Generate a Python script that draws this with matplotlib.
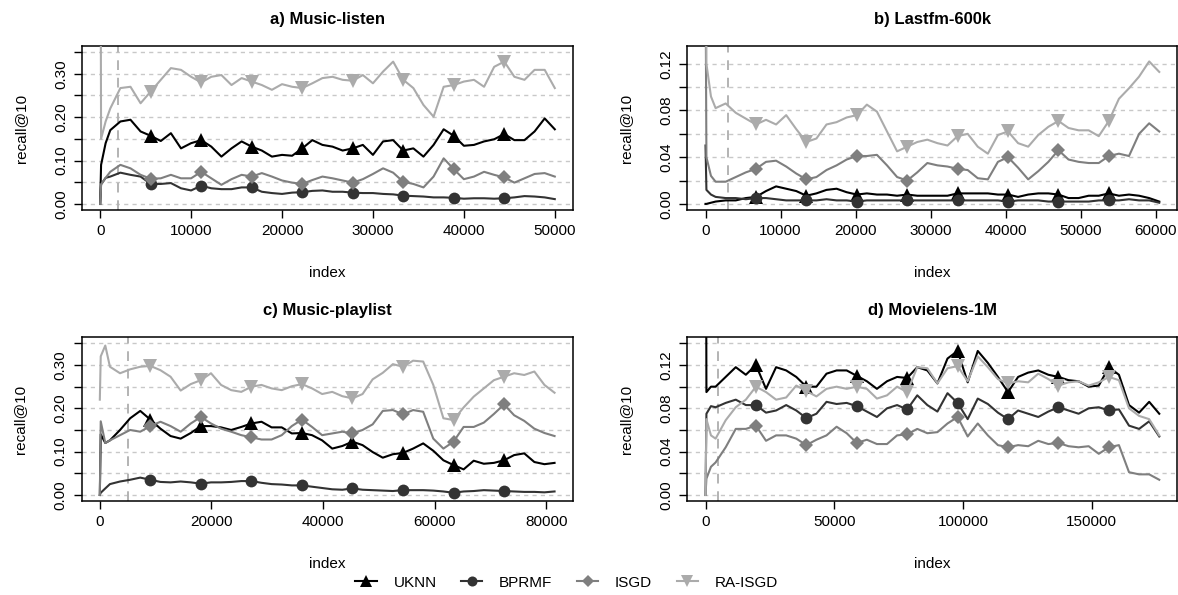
import numpy as np
import matplotlib.pyplot as plt
from matplotlib.lines import Line2D

plt.rcParams['font.family'] = ['Liberation Sans', 'DejaVu Sans']

methods = ['UKNN', 'BPRMF', 'ISGD', 'RA-ISGD']
colors = ['#000000', '#333333', '#7f7f7f', '#ababab']
markers = ['^', 'o', 'D', 'v']
msizes = [9.5, 8.5, 7.5, 9.5]

# a) Music-listen
ml_n = 50000
ml_uknn = [0.0, 0.09, 0.14, 0.17, 0.19, 0.194, 0.167, 0.157, 0.145, 0.163, 0.128, 0.14, 0.147,
           0.132, 0.109, 0.128, 0.144, 0.132, 0.123, 0.109, 0.113, 0.111, 0.128, 0.147, 0.136,
           0.132, 0.123, 0.128, 0.136, 0.113, 0.144, 0.147, 0.123, 0.128, 0.109, 0.136, 0.172,
           0.157, 0.134, 0.136, 0.144, 0.149, 0.161, 0.147, 0.147, 0.167, 0.197, 0.172]
ml_bprmf = [0.0, 0.045, 0.06, 0.063, 0.072, 0.067, 0.063, 0.046, 0.046, 0.048, 0.036, 0.031, 0.042,
            0.036, 0.034, 0.034, 0.038, 0.038, 0.028, 0.025, 0.023, 0.026, 0.027, 0.03, 0.031,
            0.028, 0.028, 0.026, 0.025, 0.025, 0.023, 0.022, 0.019, 0.018, 0.017, 0.015, 0.015,
            0.014, 0.012, 0.013, 0.013, 0.012, 0.013, 0.015, 0.018, 0.017, 0.015, 0.011]
ml_isgd = [0.0, 0.045, 0.06, 0.074, 0.09, 0.082, 0.067, 0.058, 0.059, 0.067, 0.059, 0.059, 0.074,
           0.059, 0.044, 0.057, 0.067, 0.063, 0.071, 0.063, 0.054, 0.049, 0.046, 0.055, 0.063,
           0.059, 0.054, 0.049, 0.057, 0.069, 0.082, 0.072, 0.051, 0.046, 0.038, 0.063, 0.105,
           0.08, 0.057, 0.063, 0.074, 0.067, 0.061, 0.049, 0.059, 0.069, 0.071, 0.063]
ml_ra = [1.0, 0.15, 0.19, 0.22, 0.267, 0.27, 0.232, 0.259, 0.286, 0.313, 0.309, 0.293, 0.28,
         0.293, 0.297, 0.274, 0.29, 0.282, 0.274, 0.263, 0.276, 0.27, 0.267, 0.278, 0.29,
         0.293, 0.286, 0.284, 0.297, 0.278, 0.305, 0.328, 0.286, 0.267, 0.228, 0.201, 0.27,
         0.274, 0.282, 0.286, 0.27, 0.316, 0.328, 0.293, 0.286, 0.309, 0.309, 0.267]

# b) Lastfm-600k
lfm_n = 60500
lfm_uknn = [0.0, 0.0, 0.001, 0.002, 0.003, 0.003, 0.005, 0.006, 0.011, 0.015, 0.013, 0.011, 0.007,
            0.009, 0.012, 0.013, 0.01, 0.008, 0.009, 0.008, 0.008, 0.007, 0.008, 0.007, 0.007,
            0.007, 0.007, 0.009, 0.009, 0.009, 0.009, 0.008, 0.008, 0.006, 0.008, 0.009, 0.009,
            0.008, 0.005, 0.005, 0.007, 0.007, 0.009, 0.007, 0.008, 0.007, 0.005, 0.002]
lfm_bprmf = [0.05, 0.012, 0.008, 0.006, 0.005, 0.005, 0.004, 0.005, 0.005, 0.004, 0.003, 0.003, 0.003,
             0.003, 0.004, 0.003, 0.003, 0.002, 0.003, 0.003, 0.003, 0.003, 0.003, 0.003, 0.003,
             0.003, 0.003, 0.003, 0.003, 0.003, 0.003, 0.003, 0.002, 0.003, 0.003, 0.003, 0.002,
             0.002, 0.002, 0.002, 0.002, 0.003, 0.003, 0.003, 0.004, 0.003, 0.003, 0.001]
lfm_isgd = [0.2, 0.04, 0.024, 0.019, 0.019, 0.023, 0.027, 0.03, 0.036, 0.037, 0.032, 0.026, 0.021,
            0.023, 0.029, 0.033, 0.038, 0.041, 0.041, 0.042, 0.033, 0.023, 0.02, 0.027, 0.035,
            0.033, 0.032, 0.03, 0.029, 0.022, 0.021, 0.036, 0.04, 0.031, 0.021, 0.028, 0.036,
            0.046, 0.038, 0.036, 0.035, 0.035, 0.041, 0.043, 0.041, 0.06, 0.069, 0.062]
lfm_ra = [1.0, 0.12, 0.092, 0.082, 0.086, 0.078, 0.073, 0.068, 0.072, 0.068, 0.076, 0.064, 0.053,
          0.056, 0.068, 0.07, 0.074, 0.076, 0.085, 0.079, 0.062, 0.045, 0.049, 0.053, 0.055,
          0.052, 0.05, 0.058, 0.06, 0.049, 0.043, 0.059, 0.062, 0.052, 0.049, 0.059, 0.066,
          0.071, 0.065, 0.063, 0.063, 0.058, 0.071, 0.09, 0.099, 0.109, 0.122, 0.113]

# c) Music-playlist
mp_n = 81500
mp_uknn = [0.0, 0.14, 0.12, 0.126, 0.15, 0.177, 0.194, 0.174, 0.153, 0.136, 0.13, 0.143, 0.159,
           0.159, 0.156, 0.15, 0.157, 0.165, 0.169, 0.156, 0.156, 0.142, 0.143, 0.138, 0.126,
           0.107, 0.113, 0.123, 0.115, 0.099, 0.086, 0.094, 0.097, 0.107, 0.119, 0.102, 0.08,
           0.069, 0.059, 0.079, 0.072, 0.074, 0.08, 0.092, 0.096, 0.076, 0.071, 0.074]
mp_bprmf = [0.0, 0.005, 0.015, 0.025, 0.031, 0.035, 0.04, 0.035, 0.03, 0.029, 0.031, 0.029, 0.026,
            0.029, 0.029, 0.03, 0.032, 0.032, 0.028, 0.025, 0.024, 0.022, 0.022, 0.019, 0.016,
            0.013, 0.012, 0.015, 0.012, 0.011, 0.01, 0.009, 0.011, 0.011, 0.011, 0.01, 0.008,
            0.005, 0.008, 0.009, 0.011, 0.01, 0.009, 0.008, 0.007, 0.007, 0.006, 0.008]
mp_isgd = [0.0, 0.17, 0.12, 0.126, 0.138, 0.15, 0.146, 0.159, 0.169, 0.159, 0.146, 0.165, 0.18,
           0.165, 0.153, 0.146, 0.138, 0.133, 0.128, 0.128, 0.138, 0.159, 0.174, 0.157, 0.138,
           0.142, 0.146, 0.142, 0.15, 0.163, 0.194, 0.196, 0.186, 0.196, 0.192, 0.13, 0.107,
           0.123, 0.157, 0.157, 0.167, 0.187, 0.209, 0.184, 0.171, 0.153, 0.143, 0.136]
mp_ra = [0.22, 0.32, 0.345, 0.296, 0.281, 0.29, 0.296, 0.298, 0.288, 0.273, 0.241, 0.256, 0.265,
         0.281, 0.254, 0.242, 0.238, 0.25, 0.254, 0.246, 0.242, 0.251, 0.256, 0.246, 0.233,
         0.238, 0.228, 0.223, 0.233, 0.267, 0.282, 0.302, 0.296, 0.31, 0.308, 0.254, 0.177,
         0.173, 0.202, 0.227, 0.246, 0.265, 0.273, 0.281, 0.277, 0.285, 0.254, 0.236]

# d) Movielens-1M
mv_n = 176300
mv_uknn = [0.5, 0.095, 0.1, 0.1, 0.109, 0.118, 0.111, 0.12, 0.098, 0.118, 0.115, 0.109, 0.1,
           0.1, 0.112, 0.115, 0.115, 0.11, 0.105, 0.098, 0.105, 0.109, 0.108, 0.118, 0.115,
           0.103, 0.126, 0.133, 0.104, 0.133, 0.122, 0.109, 0.095, 0.109, 0.113, 0.115, 0.111,
           0.109, 0.106, 0.105, 0.1, 0.101, 0.118, 0.111, 0.083, 0.076, 0.086, 0.075]
mv_bprmf = [0.0, 0.075, 0.082, 0.081, 0.085, 0.088, 0.083, 0.083, 0.076, 0.078, 0.083, 0.078, 0.071,
            0.075, 0.086, 0.084, 0.085, 0.082, 0.077, 0.072, 0.08, 0.083, 0.079, 0.092, 0.083,
            0.077, 0.094, 0.085, 0.07, 0.089, 0.084, 0.076, 0.07, 0.078, 0.075, 0.072, 0.077,
            0.081, 0.078, 0.075, 0.08, 0.081, 0.078, 0.079, 0.064, 0.061, 0.068, 0.054]
mv_isgd = [0.0, 0.015, 0.026, 0.03, 0.044, 0.061, 0.061, 0.064, 0.05, 0.055, 0.055, 0.052, 0.046,
           0.051, 0.055, 0.063, 0.057, 0.048, 0.051, 0.047, 0.047, 0.055, 0.056, 0.061, 0.057,
           0.058, 0.066, 0.072, 0.054, 0.066, 0.055, 0.046, 0.044, 0.046, 0.045, 0.05, 0.047,
           0.048, 0.045, 0.044, 0.045, 0.038, 0.044, 0.046, 0.021, 0.019, 0.019, 0.014]
mv_ra = [0.0, 0.07, 0.055, 0.052, 0.069, 0.081, 0.088, 0.1, 0.095, 0.088, 0.09, 0.101, 0.096,
         0.091, 0.098, 0.1, 0.098, 0.1, 0.098, 0.089, 0.092, 0.1, 0.095, 0.118, 0.117,
         0.103, 0.117, 0.119, 0.105, 0.128, 0.118, 0.107, 0.103, 0.105, 0.104, 0.112, 0.107,
         0.101, 0.104, 0.105, 0.101, 0.104, 0.109, 0.106, 0.08, 0.073, 0.07, 0.055]

titles = ['a) Music-listen', 'b) Lastfm-600k', 'c) Music-playlist', 'd) Movielens-1M']
sizes = [ml_n, lfm_n, mp_n, mv_n]
series = [[ml_uknn, ml_bprmf, ml_isgd, ml_ra],
          [lfm_uknn, lfm_bprmf, lfm_isgd, lfm_ra],
          [mp_uknn, mp_bprmf, mp_isgd, mp_ra],
          [mv_uknn, mv_bprmf, mv_isgd, mv_ra]]
warmup = [2000, 3000, 5000, 5000]
ymax = [0.35, 0.13, 0.35, 0.14]
ystep = [0.05, 0.02, 0.05, 0.02]
xticks = [[0, 10000, 20000, 30000, 40000, 50000],
          [0, 10000, 20000, 30000, 40000, 50000, 60000],
          [0, 20000, 40000, 60000, 80000],
          [0, 50000, 100000, 150000]]

# axes boxes in figure fractions (left, bottom, width, height)
boxes = [(0.0696, 0.6471, 0.4168, 0.2756),
         (0.5835, 0.6471, 0.4160, 0.2756),
         (0.0693, 0.1580, 0.4169, 0.2751),
         (0.5835, 0.1580, 0.4160, 0.2751)]

fig = plt.figure(figsize=(11.78, 5.95), dpi=100)

for p in range(4):
    ax = fig.add_axes(boxes[p])
    n = sizes[p]
    idx = np.concatenate([[0, n * 0.002, n * 0.012], np.linspace(n / 45, n, 45)])
    mk = [7, 12, 17, 22, 27, 32, 37, 42]

    # grid
    yt = np.arange(0, ymax[p] + 1e-9, ystep[p])
    for y in yt:
        ax.axhline(y, color='#c8c8c8', lw=1, ls=(0, (3, 3)), zorder=0)
    ax.axvline(warmup[p], color='#b3b3b3', lw=1.4, ls=(0, (5, 4)), zorder=1)

    for s in range(4):
        ax.plot(idx, series[p][s], color=colors[s], lw=1.5, marker=markers[s],
                markersize=msizes[s], markevery=mk, markeredgewidth=0, zorder=2 + s)

    pad_x = 0.04 * n
    ax.set_xlim(-pad_x, n + pad_x)
    ax.set_ylim(-0.04 * ymax[p], ymax[p] * 1.04)
    ax.set_xticks(xticks[p])
    ax.set_xticklabels([str(v) for v in xticks[p]])
    ax.set_yticks(yt)
    labs = []
    for i, y in enumerate(yt):
        labs.append('%.2f' % y if i % 2 == 0 else '')
    ax.set_yticklabels(labs)
    for lbl in ax.get_yticklabels():
        lbl.set_rotation(90)
        lbl.set_va('center')
    ax.tick_params(length=6, width=1, labelsize=11, pad=4, direction='out')
    for sp in ax.spines.values():
        sp.set_linewidth(1.1)
    ax.set_title(titles[p], fontsize=12, fontweight='bold', pad=16)
    ax.set_xlabel('index', fontsize=11, labelpad=20)
    ax.set_ylabel('recall@10', fontsize=11, labelpad=19)

handles = [Line2D([], [], color=colors[s], lw=1.5, marker=markers[s],
                  markersize=msizes[s] * 0.85, markeredgewidth=0) for s in range(4)]
fig.legend(handles, methods, loc='center', bbox_to_anchor=(0.481, 0.021), ncol=4,
           frameon=False, fontsize=11, handlelength=1.4, columnspacing=1.6,
           handletextpad=1.1)

fig.savefig('out.png', dpi=100)
